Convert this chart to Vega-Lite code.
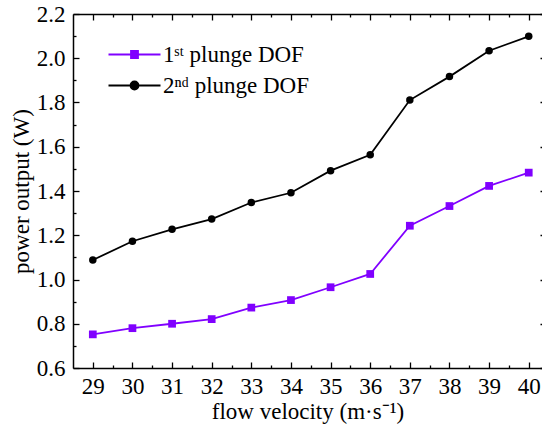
{
  "$schema": "https://vega.github.io/schema/vega-lite/v6.json",
  "width": 469,
  "height": 354,
  "autosize": "none",
  "padding": {"left": 73, "top": 14, "right": 0, "bottom": 62},
  "background": "white",
  "config": {
    "view": {"stroke": null},
    "axis": {
      "grid": false,
      "domainColor": "black",
      "domainWidth": 1.5,
      "tickColor": "black",
      "tickWidth": 1.3,
      "labelFont": "Liberation Serif",
      "labelFontSize": 23,
      "labelColor": "black",
      "titleFont": "Liberation Serif",
      "titleFontSize": 23,
      "titleFontWeight": "normal",
      "titleColor": "black"
    }
  },
  "data": {
    "values": [
      {"v": 29, "p": 0.752, "s": "1ˢᵗ plunge DOF"},
      {"v": 30, "p": 0.780, "s": "1ˢᵗ plunge DOF"},
      {"v": 31, "p": 0.800, "s": "1ˢᵗ plunge DOF"},
      {"v": 32, "p": 0.821, "s": "1ˢᵗ plunge DOF"},
      {"v": 33, "p": 0.873, "s": "1ˢᵗ plunge DOF"},
      {"v": 34, "p": 0.907, "s": "1ˢᵗ plunge DOF"},
      {"v": 35, "p": 0.965, "s": "1ˢᵗ plunge DOF"},
      {"v": 36, "p": 1.025, "s": "1ˢᵗ plunge DOF"},
      {"v": 37, "p": 1.243, "s": "1ˢᵗ plunge DOF"},
      {"v": 38, "p": 1.332, "s": "1ˢᵗ plunge DOF"},
      {"v": 39, "p": 1.423, "s": "1ˢᵗ plunge DOF"},
      {"v": 40, "p": 1.483, "s": "1ˢᵗ plunge DOF"},
      {"v": 29, "p": 1.088, "s": "2ⁿᵈ plunge DOF"},
      {"v": 30, "p": 1.173, "s": "2ⁿᵈ plunge DOF"},
      {"v": 31, "p": 1.227, "s": "2ⁿᵈ plunge DOF"},
      {"v": 32, "p": 1.273, "s": "2ⁿᵈ plunge DOF"},
      {"v": 33, "p": 1.348, "s": "2ⁿᵈ plunge DOF"},
      {"v": 34, "p": 1.392, "s": "2ⁿᵈ plunge DOF"},
      {"v": 35, "p": 1.492, "s": "2ⁿᵈ plunge DOF"},
      {"v": 36, "p": 1.564, "s": "2ⁿᵈ plunge DOF"},
      {"v": 37, "p": 1.811, "s": "2ⁿᵈ plunge DOF"},
      {"v": 38, "p": 1.917, "s": "2ⁿᵈ plunge DOF"},
      {"v": 39, "p": 2.034, "s": "2ⁿᵈ plunge DOF"},
      {"v": 40, "p": 2.099, "s": "2ⁿᵈ plunge DOF"}
    ]
  },
  "resolve": {"axis": {"x": "independent", "y": "independent"}},
  "layer": [
    {
      "transform": [{"filter": "indexof(datum.s, '1') === 0"}],
      "mark": {"type": "line", "strokeWidth": 1.8},
      "encoding": {
        "x": {
          "field": "v", "type": "quantitative",
          "scale": {"domain": [28.5, 40.335], "nice": false, "zero": false},
          "axis": {"orient": "bottom", "values": [29, 30, 31, 32, 33, 34, 35, 36, 37, 38, 39, 40], "tickSize": -6, "labelPadding": 13, "labelFlush": false, "title": "flow velocity (m·s⁻¹)", "titlePadding": 2}
        },
        "y": {
          "field": "p", "type": "quantitative",
          "scale": {"domain": [0.6, 2.2], "nice": false, "zero": false},
          "axis": {"orient": "left", "values": [0.6, 0.8, 1.0, 1.2, 1.4, 1.6, 1.8, 2.0, 2.2], "format": ".1f", "tickSize": -6, "labelPadding": 14, "labelFlush": false, "title": "power output (W)", "titlePadding": 3}
        },
        "color": {
          "field": "s", "type": "nominal",
          "scale": {"domain": ["1ˢᵗ plunge DOF", "2ⁿᵈ plunge DOF"], "range": ["#8000FF", "#000000"]},
          "legend": {
            "orient": "none", "legendX": 50, "legendY": 29,
            "title": null,
            "symbolSize": 100,
            "symbolStrokeWidth": 1.8,
            "labelFont": "Liberation Serif",
            "labelFontSize": 23,
            "labelColor": "black",
            "labelOffset": 17,
            "rowPadding": 7,
            "encode": {
              "symbols": {
                "update": {
                  "shape": {"signal": "indexof(datum.value, '1') === 0 ? 'M-5.2,0H5.2M-0.7,-0.7H0.7V0.7H-0.7Z' : 'M-5.2,0H5.2M0.8,0A0.8,0.8,0,1,1,-0.8,0A0.8,0.8,0,1,1,0.8,0Z'"},
                  "fill": {"signal": "indexof(datum.value, '1') === 0 ? '#8000FF' : '#000000'"},
                  "stroke": {"signal": "indexof(datum.value, '1') === 0 ? '#8000FF' : '#000000'"},
                  "fillOpacity": {"value": 1},
                  "strokeOpacity": {"value": 1}
                }
              }
            }
          }
        }
      }
    },
    {
      "transform": [{"filter": "indexof(datum.s, '2') === 0"}],
      "mark": {"type": "line", "strokeWidth": 1.8},
      "encoding": {
        "x": {
          "field": "v", "type": "quantitative",
          "axis": {"orient": "bottom", "values": [29.5, 30.5, 31.5, 32.5, 33.5, 34.5, 35.5, 36.5, 37.5, 38.5, 39.5], "tickSize": -3, "labels": false, "domain": false, "title": null}
        },
        "y": {
          "field": "p", "type": "quantitative",
          "axis": {"orient": "left", "values": [0.7, 0.9, 1.1, 1.3, 1.5, 1.7, 1.9, 2.1], "tickSize": -3, "labels": false, "domain": false, "title": null}
        },
        "color": {"field": "s", "type": "nominal"}
      }
    },
    {
      "transform": [{"filter": "indexof(datum.s, '1') === 0"}],
      "mark": {"type": "point", "shape": "square", "filled": true, "size": 60, "color": "#8000FF", "opacity": 1},
      "encoding": {
        "x": {
          "field": "v", "type": "quantitative",
          "axis": {"orient": "top", "values": [29, 30, 31, 32, 33, 34, 35, 36, 37, 38, 39, 40], "tickSize": -6, "labels": false, "title": null}
        },
        "y": {
          "field": "p", "type": "quantitative",
          "axis": {"orient": "right", "values": [0.6, 0.8, 1.0, 1.2, 1.4, 1.6, 1.8, 2.0, 2.2], "tickSize": -2, "labels": false, "domain": false, "title": null}
        }
      }
    },
    {
      "transform": [{"filter": "indexof(datum.s, '2') === 0"}],
      "mark": {"type": "point", "shape": "circle", "filled": true, "size": 56, "color": "#000000", "opacity": 1},
      "encoding": {
        "x": {
          "field": "v", "type": "quantitative",
          "axis": {"orient": "top", "values": [29.5, 30.5, 31.5, 32.5, 33.5, 34.5, 35.5, 36.5, 37.5, 38.5, 39.5], "tickSize": -3, "labels": false, "domain": false, "title": null}
        },
        "y": {
          "field": "p", "type": "quantitative",
          "axis": null
        }
      }
    }
  ]
}
